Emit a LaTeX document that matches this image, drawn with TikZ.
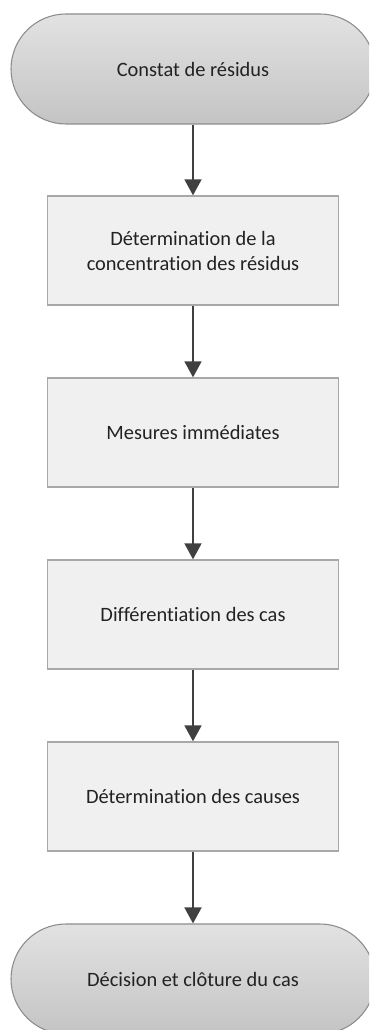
\documentclass[tikz,border=0pt]{standalone}
\usepackage{fontspec}
\setmainfont{Carlito}[Ligatures={NoCommon}]
\usetikzlibrary{arrows.meta,shapes.misc}
\definecolor{boxfill}{HTML}{F0F0F0}
\definecolor{boxline}{HTML}{A8A8A8}
\definecolor{termline}{HTML}{8C8C8C}
\definecolor{termtop}{HTML}{E2E2E2}
\definecolor{termbot}{HTML}{C4C4C4}
\definecolor{arrowcol}{HTML}{404040}
\definecolor{textcol}{HTML}{222222}
\tikzset{
  px/.style={x=0.75pt,y=-0.75pt},
  terminal/.style={rectangle, rounded corners=41.25pt, draw=termline, line width=0.8pt,
    top color=termtop, bottom color=termbot, text=textcol,
    minimum width=273pt, minimum height=82.5pt, align=center,
    font=\fontsize{15.3}{18.75}\selectfont, inner sep=0pt},
  stepbox/.style={rectangle, draw=boxline, fill=boxfill, line width=0.9pt, text=textcol,
    minimum width=218pt, minimum height=81.75pt, align=center,
    font=\fontsize{15.3}{18.75}\selectfont, inner sep=0pt},
  flow/.style={draw=arrowcol, line width=2pt, -{Triangle[width=12.5pt,length=12pt]}}
}
\begin{document}
\begin{tikzpicture}[px]
\useasboundingbox (0,0) rectangle (369,1030);
\clip (0,0) rectangle (369,1030);
\node[terminal] (t1) at (193,69) {Constat de résidus};
\node[stepbox] (b1) at (193,250.5) {Détermination de la\\concentration des résidus};
\node[stepbox] (b2) at (193,432.5) {Mesures immédiates};
\node[stepbox] (b3) at (193,614.5) {Différentiation des cas};
\node[stepbox] (b4) at (193,796.5) {Détermination des causes};
\node[terminal] (t2) at (193,979) {Décision et clôture du cas};
\draw[flow] (t1) -- (b1);
\draw[flow] (b1) -- (b2);
\draw[flow] (b2) -- (b3);
\draw[flow] (b3) -- (b4);
\draw[flow] (b4) -- (t2);
\end{tikzpicture}
\end{document}
